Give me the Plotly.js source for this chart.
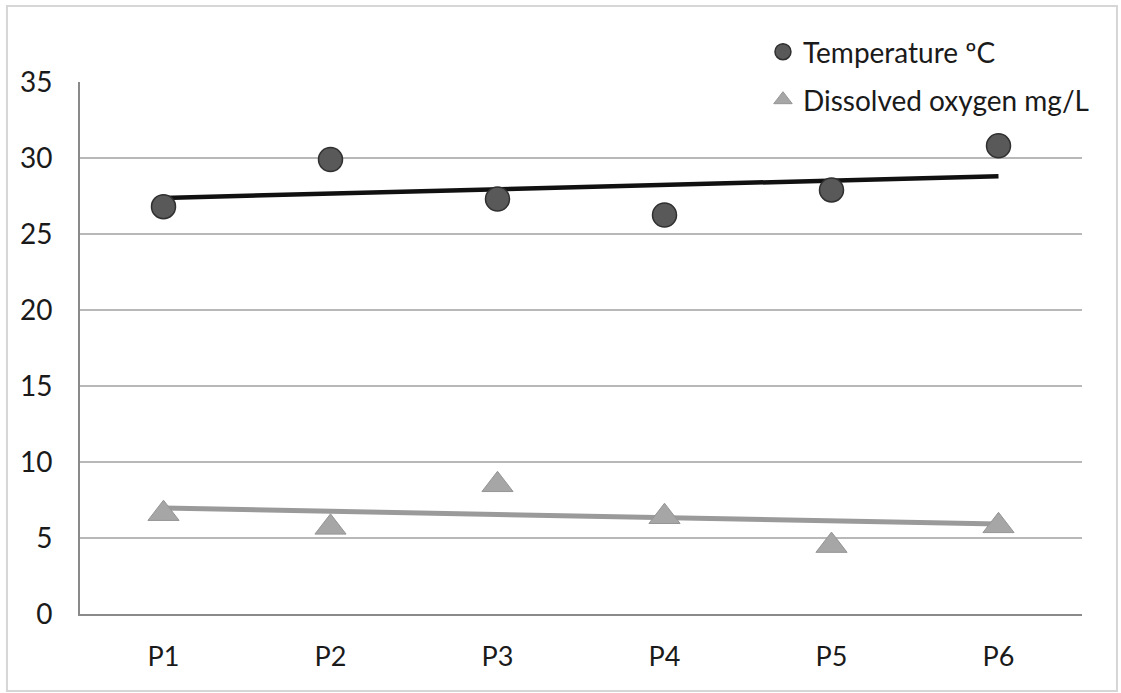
<!DOCTYPE html>
<html>
<head>
<meta charset="utf-8">
<script src="https://cdn.plot.ly/plotly-3.0.1.min.js"></script>
<style>
  html, body { margin: 0; padding: 0; background: #ffffff; }
  #chart { width: 1121px; height: 693px; }
</style>
</head>
<body>
<div id="chart"></div>
<script>
// ---- data ----
var sites = ["P1", "P2", "P3", "P4", "P5", "P6"];
var temperature = [26.8, 29.9, 27.3, 26.25, 27.9, 30.8];
var dissolvedOxygen = [6.6, 5.7, 8.5, 6.4, 4.5, 5.8];
// trendline end points (at P1 and P6) as drawn in the reference
var trendSites = ["P1", "P6"];
var temperatureTrend = [27.37, 28.8];
var oxygenTrend = [6.97, 5.92];
var yTicks = [0, 5, 10, 15, 20, 25, 30, 35];

var FONT = "Lato, 'Open Sans', sans-serif";

var traces = [
  {
    x: trendSites, y: temperatureTrend, type: "scatter", mode: "lines",
    line: { color: "#111111", width: 4.5 }, showlegend: false, hoverinfo: "skip"
  },
  {
    x: trendSites, y: oxygenTrend, type: "scatter", mode: "lines",
    line: { color: "#9a9a9a", width: 5 }, showlegend: false, hoverinfo: "skip"
  },
  {
    x: sites, y: temperature, type: "scatter", mode: "markers",
    name: "Temperature ºC", legend: "legend",
    marker: { symbol: "circle", size: 24, color: "#595959", line: { color: "#303030", width: 1.5 } }
  },
  {
    x: sites, y: dissolvedOxygen, type: "scatter", mode: "markers",
    name: "Dissolved oxygen mg/L", legend: "legend2",
    marker: { symbol: "triangle-up", size: 27, color: "#a6a6a6", line: { color: "#959595", width: 1 } }
  }
];

var layout = {
  width: 1121, height: 693,
  margin: { l: 80, r: 39, t: 82, b: 79 },
  paper_bgcolor: "#ffffff", plot_bgcolor: "#ffffff",
  font: { family: FONT, size: 28, color: "#1a1a1a" },
  xaxis: {
    type: "category", categoryorder: "array", categoryarray: sites,
    range: [-0.5, 5.5],
    showgrid: false, zeroline: false,
    showline: true, linecolor: "#8a8a8a", linewidth: 2,
    ticks: "", ticklabelstandoff: 18,
    tickfont: { family: FONT, size: 27, color: "#1a1a1a" }
  },
  yaxis: {
    range: [0, 35], tickvals: yTicks, ticktext: yTicks.map(String),
    showgrid: true, gridcolor: "#b8b8b8", gridwidth: 2,
    zeroline: false, showline: true, linecolor: "#8a8a8a", linewidth: 2,
    ticks: "", ticklabelstandoff: 20,
    tickfont: { family: FONT, size: 28, color: "#1a1a1a" }
  },
  legend: {
    x: 0.6816, y: 1.0564, xanchor: "left", yanchor: "middle",
    bgcolor: "rgba(0,0,0,0)", borderwidth: 0,
    font: { family: FONT, size: 28, color: "#1a1a1a" }
  },
  legend2: {
    x: 0.6816, y: 0.9662, xanchor: "left", yanchor: "middle",
    bgcolor: "rgba(0,0,0,0)", borderwidth: 0,
    font: { family: FONT, size: 28, color: "#1a1a1a" }
  },
  shapes: [
    {
      type: "rect", xref: "paper", yref: "paper",
      x0: -0.0729, x1: 1.0349, y0: -0.1447, y1: 1.1429,
      line: { color: "#d6d6d6", width: 2 }, fillcolor: "rgba(0,0,0,0)", layer: "below"
    }
  ],
  hovermode: false
};

Plotly.newPlot("chart", traces, layout, { displayModeBar: false, staticPlot: true });
</script>
</body>
</html>
